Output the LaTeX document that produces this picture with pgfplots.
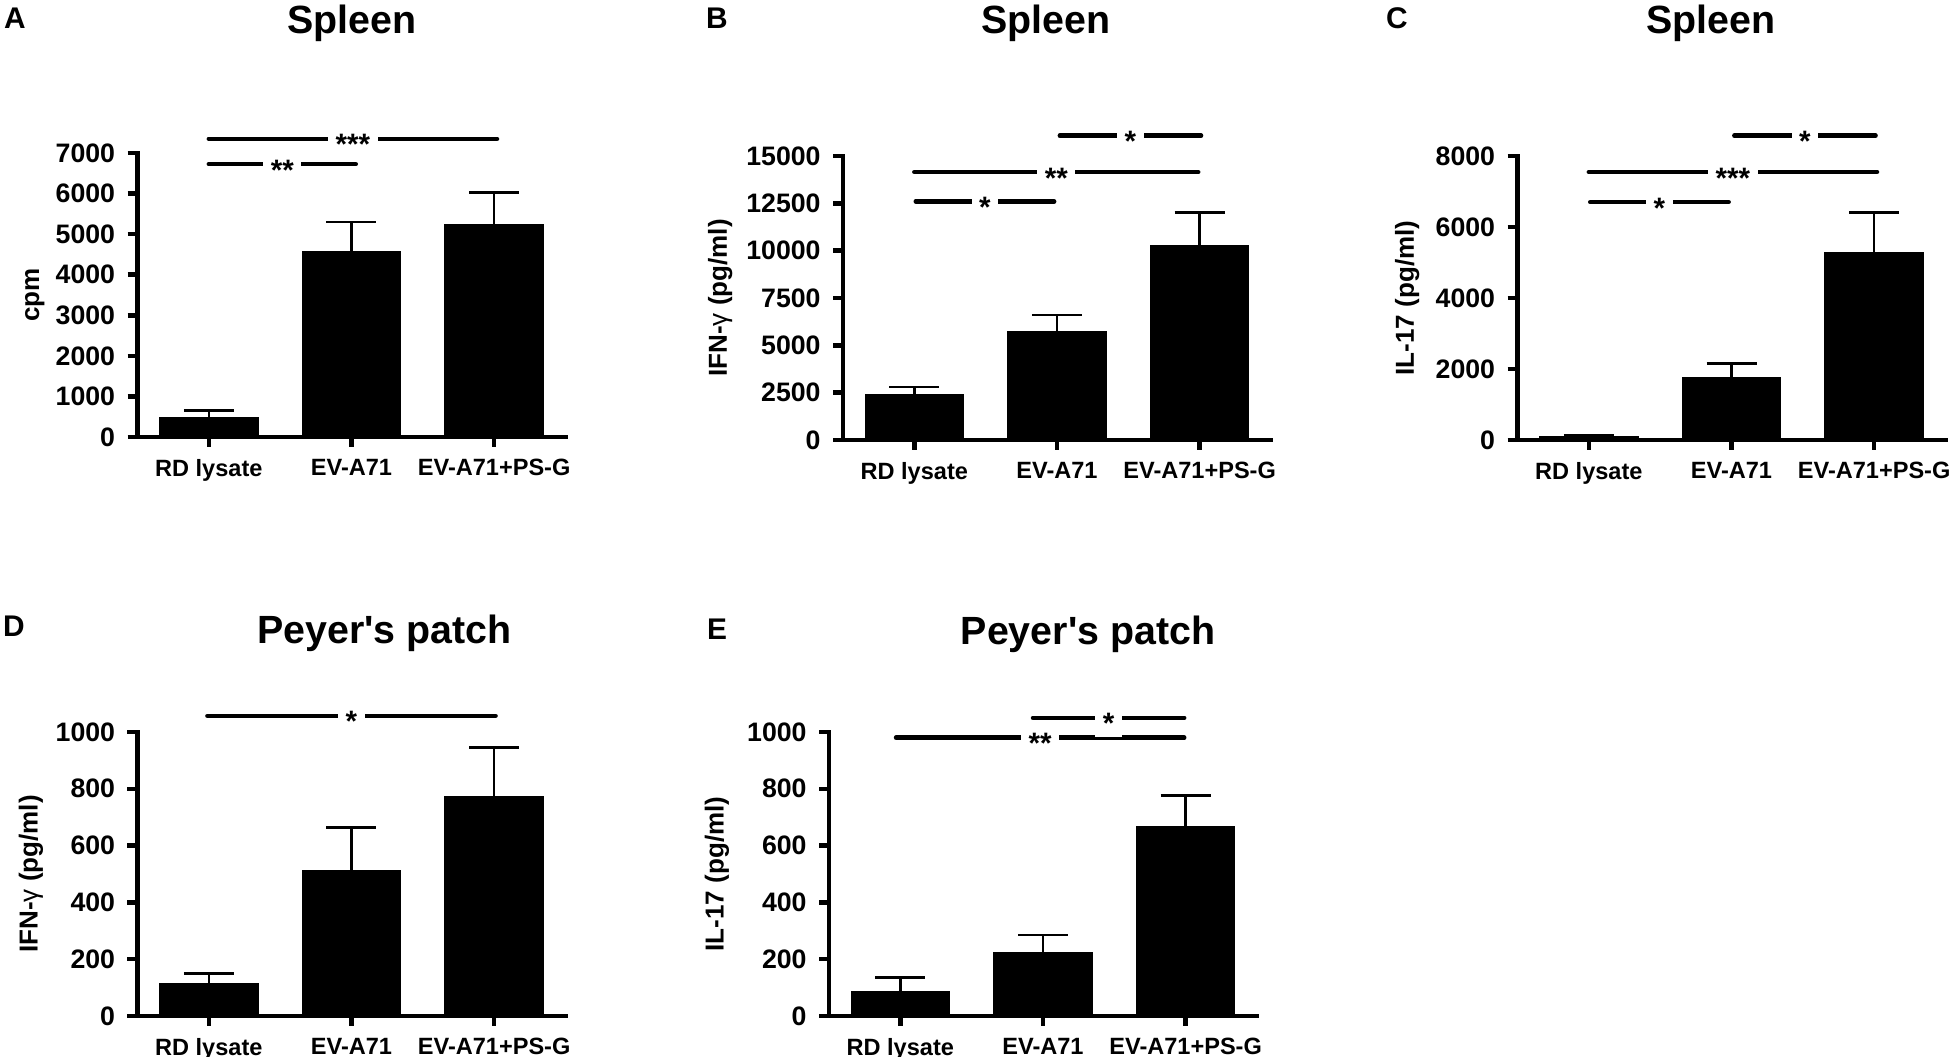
\documentclass[border=0pt]{standalone}
\usepackage{fontspec}
\setmainfont{Liberation Sans}
\usepackage{pgfplots}
\pgfplotsset{compat=1.18}
\pgfplotsset{
 panel/.style={
  scale only axis, width=42.8mm, height=28.4mm, anchor=south west,
  axis x line=bottom, axis y line=left,
  axis line style={-, line width=0.45mm, line cap=rect},
  xmin=-0.5, xmax=2.5, ymin=0,
  xtick={0,1,2}, xticklabels={RD lysate, EV-A71, EV-A71+PS-G},
  tick align=outside, major tick length=1.0mm,
  tick style={line width=0.45mm, black},
  ybar, bar width=9.8mm, clip=false,
  scaled y ticks=false,
  tick label style={font=\bfseries\fontsize{7.6}{8}\selectfont},
  xticklabel style={font=\bfseries\fontsize{6.7}{7}\selectfont},
  ylabel style={font=\bfseries\fontsize{7.4}{8}\selectfont, anchor=center},
  /pgf/number format/1000 sep={},
  /pgf/number format/assume math mode=true,
 },
 barstyle/.style={fill=black, draw=black,
   error bars/.cd, y dir=plus, y explicit,
   error bar style={line width=0.25mm, black},
   error mark options={line width=0.28mm, mark size=2.5mm, black, rotate=90}}
}
\newcommand{\sig}[4]{\draw[line width=0.45mm, line cap=round] (axis cs:#1,#3) -- (axis cs:#2,#3) node[midway, fill=white, inner xsep=0.75mm, inner ysep=0.3mm, yshift=-0.6mm, font=\bfseries\fontsize{8.4}{9}\selectfont]{#4};}
\newcommand{\ttl}{\bfseries\fontsize{11.2}{12}\selectfont}
\newcommand{\lett}{\bfseries\fontsize{8.5}{9}\selectfont}
\begin{document}
\begin{tikzpicture}
\path[use as bounding box] (0,0) rectangle (195mm,105.7mm);
% titles and letters
\node[anchor=base, font=\ttl] at (35.16mm,102.37mm) {Spleen};
\node[anchor=base, font=\ttl] at (104.6mm,102.37mm) {Spleen};
\node[anchor=base, font=\ttl] at (171.1mm,102.37mm) {Spleen};
\node[anchor=base, font=\ttl] at (38.46mm,41.3mm) {Peyer\textquotesingle s patch};
\node[anchor=base, font=\ttl] at (108.8mm,41.2mm) {Peyer\textquotesingle s patch};
\node[anchor=base, font=\lett] at (1.5mm,102.87mm) {A};
\node[anchor=base, font=\lett] at (71.7mm,102.87mm) {B};
\node[anchor=base, font=\lett] at (139.7mm,102.87mm) {C};
\node[anchor=base, font=\lett] at (1.4mm,42.03mm) {D};
\node[anchor=base, font=\lett] at (71.7mm,41.77mm) {E};

% A
\begin{axis}[panel, at={(13.75mm,62.0mm)}, ymax=7000, ytick={0,1000,...,7000},
  ylabel={cpm}, ylabel style={at={(axis description cs:-0.24,0.5)}}]
\addplot[barstyle] coordinates {(0,475) +- (0,175) (1,4575) +- (0,725) (2,5225) +- (0,800)};
\sig{0}{2.02}{7350}{***}
\sig{0}{1.03}{6725}{**}
\end{axis}

% B
\begin{axis}[panel, at={(84.3mm,61.7mm)}, ymax=15000, ytick={0,2500,...,15000},
  ylabel={IFN-{\mdseries γ} (pg/ml)}, ylabel style={at={(axis description cs:-0.287,0.5)}}]
\addplot[barstyle] coordinates {(0,2400) +- (0,400) (1,5700) +- (0,900) (2,10250) +- (0,1750)};
\sig{0.01}{0.98}{12600}{*}
\sig{0}{1.99}{14150}{**}
\sig{1.02}{2.01}{16070}{*}
\end{axis}

% C
\begin{axis}[panel, at={(151.75mm,61.7mm)}, ymax=8000, ytick={0,2000,...,8000},
  ylabel={IL-17 (pg/ml)}, ylabel style={at={(axis description cs:-0.258,0.5)}}]
\addplot[barstyle] coordinates {(0,100) +- (0,40) (1,1750) +- (0,400) (2,5280) +- (0,1120)};
\sig{0.01}{0.98}{6700}{*}
\sig{0}{2.02}{7550}{***}
\sig{1.02}{2.01}{8570}{*}
\end{axis}

% D
\begin{axis}[panel, at={(13.75mm,4.1mm)}, ymax=1000, ytick={0,200,...,1000},
  ylabel={IFN-{\mdseries γ} (pg/ml)}, ylabel style={at={(axis description cs:-0.249,0.5)}}]
\addplot[barstyle] coordinates {(0,114) +- (0,36) (1,512) +- (0,153) (2,772) +- (0,174)};
\sig{-0.01}{2.01}{1057}{*}
\end{axis}

% E
\begin{axis}[panel, at={(82.9mm,4.1mm)}, ymax=1000, ytick={0,200,...,1000},
  ylabel={IL-17 (pg/ml)}, ylabel style={at={(axis description cs:-0.262,0.5)}}]
\addplot[barstyle] coordinates {(0,85) +- (0,50) (1,222) +- (0,63) (2,665) +- (0,111)};
\sig{-0.03}{1.99}{980}{**}
\sig{0.93}{1.99}{1050}{*}
\end{axis}
\end{tikzpicture}
\end{document}
